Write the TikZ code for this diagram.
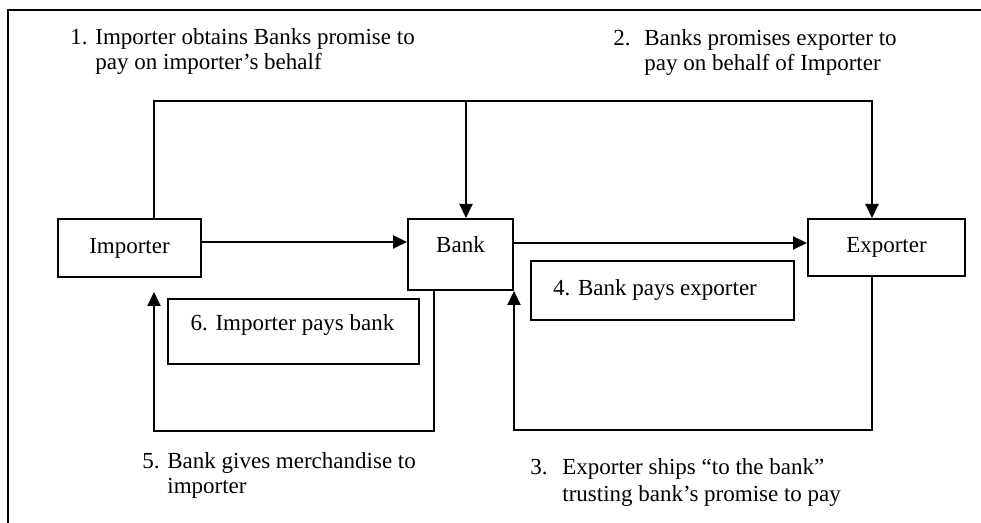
\documentclass[tikz,border=0pt]{standalone}
\usepackage{fontspec}
\setmainfont{Liberation Serif}
\usetikzlibrary{arrows.meta}
% two-line numbered note with a hanging indent
\newcommand\twoline[4]{\vtop{\hbox{\makebox[#1][l]{#2}#3}\hbox{\hspace*{#1}#4}}}
\begin{document}
\begin{tikzpicture}[x=0.5pt,y=-0.5pt,
  wire/.style={line width=1pt},
  box/.style={draw, line width=1pt, inner sep=0pt},
  txt/.style={inner sep=0pt, font=\fontsize{11.5}{12.5}\selectfont},
  arr/.style={line width=1pt, -{Triangle[length=7pt,width=6.5pt]}},
  note/.style={txt, anchor=base west}]
\useasboundingbox (0,0) rectangle (981,523);
\fill[white] (0,0) rectangle (981,523);
% frame
\draw[wire] (8,523) -- (8,10) -- (981,10);

% parties
\node[box, txt, minimum width=71.5pt, minimum height=29pt] (imp) at (129.5,248) {Importer};
\node[box, minimum width=52.5pt, minimum height=35.5pt] (bank) at (460.5,254.5) {};
\node[txt] (banktext) at (460.5,245) {Bank};
\node[box, txt, minimum width=78.5pt, minimum height=28.5pt] (exp) at (886.5,247.5) {Exporter};

% payment boxes
\node[box, minimum width=125.5pt, minimum height=32.5pt] (pay6) at (293.5,331.5) {};
\node[txt] (pay6text) at (292.5,325) {6. Importer pays bank};
\node[box, minimum width=131.5pt, minimum height=29.5pt] (pay4) at (662.5,290.5) {};
\node[txt] (pay4text) at (655,290.5) {4. Bank pays exporter};

% routing points
\coordinate (up) at (154,101);
\coordinate (upr) at (872,101);
\coordinate (upb) at (466,101);
\coordinate (row1) at (0,242);
\coordinate (row2) at (0,243);
\coordinate (lb) at (434,431);
\coordinate (rb) at (0,430);
\coordinate (impin) at (154,292);

% promises along the top
\draw[arr] (imp.north -| up) -- (up) -- (upr) -- (exp.north -| upr);
\draw[arr] (upb) -- (bank.north -| upb);

% straight flows
\draw[arr] (imp.east |- row1) -- (bank.west |- row1);
\draw[arr] (bank.east |- row2) -- (exp.west |- row2);

% return loops
\draw[arr] (bank.south -| lb) |- (impin |- lb) -- (impin);
\draw[arr] (exp.south -| upr) |- (bank.south east |- rb) -- (bank.south east);

% step notes
\node[note] (n1) at (70,45) {\twoline{12.5pt}{1.}{Importer obtains Banks promise to}{pay on importer’s behalf}};
\node[note] (n2) at (613,46) {\twoline{15.5pt}{2.}{Banks promises exporter to}{pay on behalf of Importer}};
\node[note] (n5) at (142,469) {\twoline{12.5pt}{5.}{Bank gives merchandise to}{importer}};
\node[note, font=\fontsize{11.5}{13.5}\selectfont] (n3) at (530,475) {\twoline{16pt}{3.}{Exporter ships “to the bank”}{trusting bank’s promise to pay}};
\end{tikzpicture}
\end{document}
